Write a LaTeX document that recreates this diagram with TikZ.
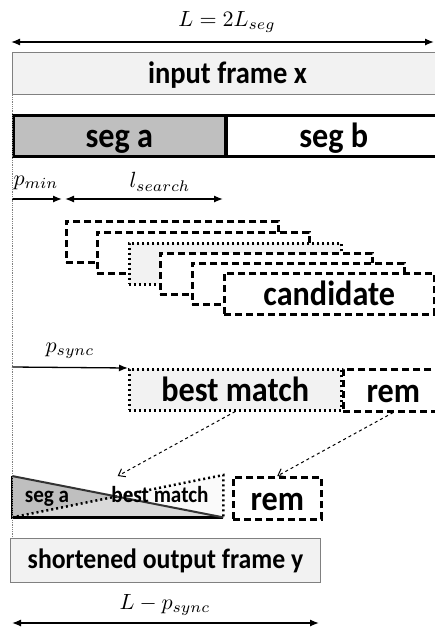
\documentclass[tikz,border=0pt]{standalone}
\usepackage{fontspec}
\setmainfont{Carlito}[FakeStretch=0.92]
\usetikzlibrary{arrows.meta}
\newcommand{\biglab}[1]{\scalebox{2.2}{$#1$}}
\tikzset{
  box/.style={rectangle, anchor=north west, inner sep=0pt, text height=26pt, text depth=2pt, font=\bfseries\fontsize{35}{38}\selectfont},
  framebox/.style={box, draw=gray, fill=gray!10, line width=1pt},
  segbox/.style={box, draw, line width=2.5pt, minimum height=41, minimum width=212},
  candbox/.style={box, draw, fill=white, line width=2.5pt, dash pattern=on 7pt off 4pt, minimum height=41, minimum width=212},
  dotbox/.style={box, draw, fill=gray!10, line width=2.5pt, dash pattern=on 2pt off 3pt, minimum height=41, minimum width=212},
  smalltext/.style={anchor=base, font=\bfseries\fontsize{23}{25}\selectfont},
  span/.style={line width=1.3pt, {Latex[length=9pt,width=7pt]}-{Latex[length=9pt,width=7pt]}},
  push/.style={line width=1.3pt, -{Latex[length=9pt,width=7pt]}},
  moveto/.style={dashed, line width=1pt, -{Straight Barb[length=6pt,width=9pt]}},
  guide/.style={gray, densely dotted, line width=0.8pt},
  mathlab/.style={inner sep=0pt},
}
\begin{document}
\begin{tikzpicture}[x=1pt,y=-1pt]
\useasboundingbox (0,0) rectangle (435,630);
% input frame
\coordinate (Lleft) at (11,42);
\coordinate (Lright) at (434,42);
\draw[span] (Lleft) -- (Lright);
\node[mathlab] (Llab) at (227,22) {\biglab{L=2L_{seg}}};
\node[framebox, minimum width=430, minimum height=42, text height=22pt, font=\bfseries\fontsize{31}{34}\selectfont] (in) at (12,52) {input frame x};
\node[segbox, fill=gray!50] (sega) at (12,114) {seg a};
\node[segbox, fill=white, minimum width=215] (segb) at (225,114) {seg b};
% search range
\coordinate (pmin0) at (12,199);
\coordinate (pmin1) at (62,199);
\coordinate (ls0) at (65,199);
\coordinate (ls1) at (223,199);
\draw[push] (pmin0) -- (pmin1);
\draw[span] (ls0) -- (ls1);
\node[mathlab] (pminlab) at (36,183) {\biglab{p_{min}}};
\node[mathlab] (lslab) at (160,182) {\biglab{l_{search}}};
% candidates
\node[candbox] (cand0) at (65,220) {};
\node[candbox] (cand1) at (96,231) {};
\node[dotbox] (cand2) at (128,242) {};
\node[candbox] (cand3) at (159,252) {};
\node[candbox] (cand4) at (191,262) {};
\node[candbox, minimum width=210] (cand5) at (223,272) {candidate};
% best match
\node[dotbox] (bm) at (128,368) {best match};
\node[candbox, minimum width=100, minimum height=42] (rem) at (342,368) {rem};
\draw[push] (12,367) coordinate (ps0) -- (bm.north west);
\node[mathlab] (pslab) at (70,351) {\biglab{p_{sync}}};
% crossfade
\node[box, minimum width=211, minimum height=41] (xf) at (12,476) {};
\fill[gray!50] (xf.north west) -- (xf.south east) -- (xf.south west) -- cycle;
\fill[gray!8, opacity=0.5] (xf.south west) -- (xf.north east) -- (xf.south east) -- cycle;
\draw[line width=2.5pt, dash pattern=on 2pt off 3pt] (xf.south west) -- ([yshift=1]xf.north east) -- (xf.south east);
\draw[line width=2.5pt] (xf.north west) -- (xf.south west) -- (xf.south east);
\draw[line width=2pt, black!80] (xf.north west) -- (xf.south east);
\node[smalltext] (xfa) at (47,502) {seg a};
\node[smalltext] (xfb) at (160,502) {best match};
\node[candbox, minimum width=88, minimum height=42] (rem2) at (232,476) {rem};
\draw[moveto] (bm.south) -- (xf.north);
\draw[moveto] (rem.south) -- (rem2.north);
% output frame
\node[framebox, minimum width=310, minimum height=44, text height=18pt, font=\bfseries\fontsize{28}{31}\selectfont] (out) at (10,538) {shortened output frame y};
\draw[guide] (in.north west) -- (in.north west |- out.north);
\coordinate (Oleft) at (12,623);
\coordinate (Oright) at (319,623);
\draw[span] (Oleft) -- (Oright);
\node[mathlab] (olab) at (165,605) {\biglab{L-p_{sync}}};
\end{tikzpicture}
\end{document}
